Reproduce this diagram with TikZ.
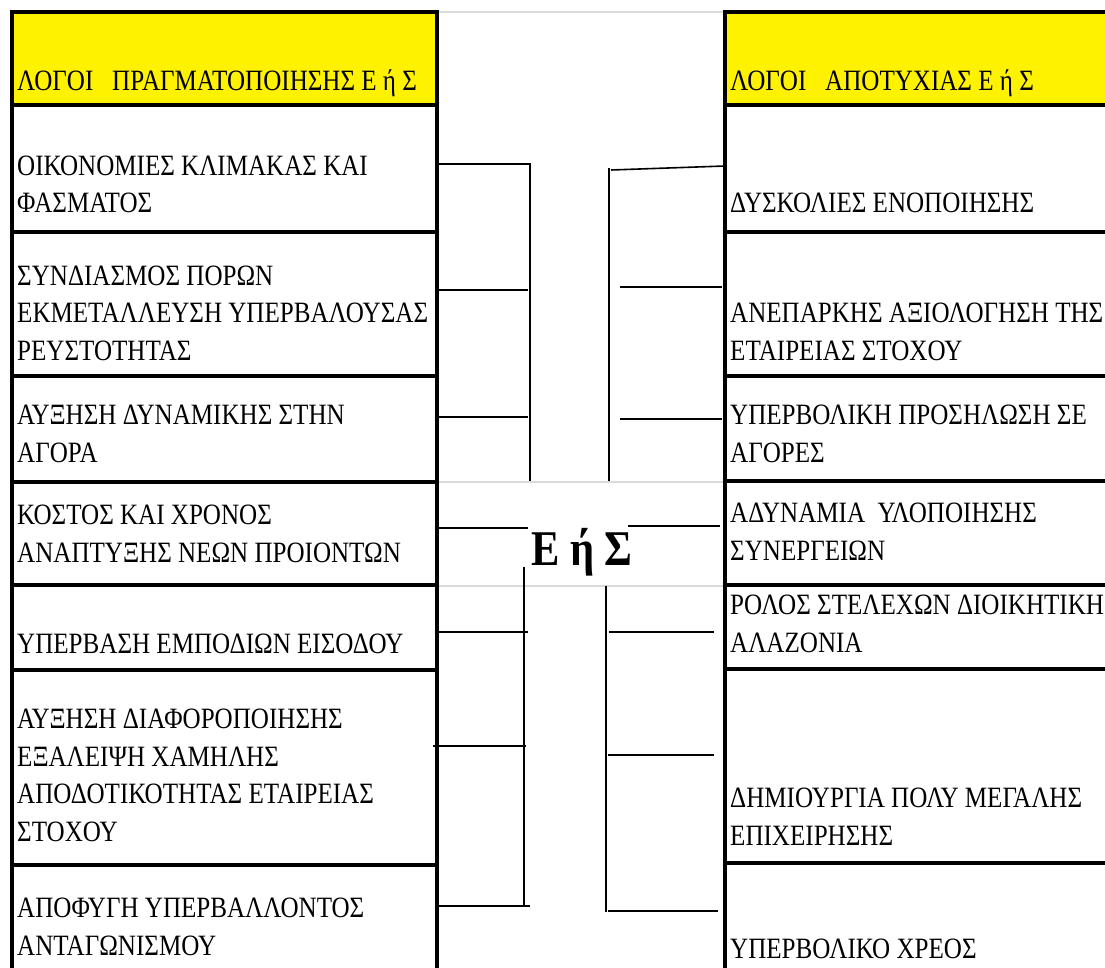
\documentclass[tikz,border=0pt]{standalone}
\usepackage{fontspec}
\setmainfont{Liberation Serif}
\newfontfamily\cellfont[FakeStretch=0.85]{Liberation Serif}
\begin{document}
\begin{tikzpicture}[x=1pt,y=-1pt,
  cell/.style={anchor=base west,inner sep=0pt,align=left,font=\cellfont\fontsize{29.5}{37.5}\selectfont},
  tbl/.style={line width=4pt,black},
  grid/.style={line width=2pt,gray!30},
  conn/.style={line width=1.6pt,black},
  mid/.style={inner sep=0pt,font=\cellfont\bfseries\fontsize{50}{50}\selectfont}]
\useasboundingbox (0,0) rectangle (1105,968);
\begin{scope}
\clip (0,0) rectangle (1105,968);
% gridlines
\draw[grid] (437,12) -- (725,12);
\draw[grid] (437,482) -- (725,482);
\draw[grid] (437,586) -- (725,586);
% yellow headers
\fill[yellow] (12,12) rectangle (437,105);
\fill[yellow] (725,12) rectangle (1110,105);
% left table
\draw[tbl] (12,990) -- (12,12) -- (437,12) -- (437,990);
\foreach \y in {105,232,376,482,585,670,865} \draw[tbl] (12,\y) -- (439,\y);
% right table
\draw[tbl] (725,990) -- (725,12) -- (1110,12);
\foreach \y in {105,232,376,481,585,669,863} \draw[tbl] (725,\y) -- (1110,\y);
\end{scope}
% left texts (anchor = baseline of last line)
\node[cell] (L0) at (17,91) {ΛΟΓΟΙ \ \ ΠΡΑΓΜΑΤΟΠΟΙΗΣΗΣ Ε ή Σ};
\node[cell] (L1) at (17,213) {ΟΙΚΟΝΟΜΙΕΣ ΚΛΙΜΑΚΑΣ ΚΑΙ\\ΦΑΣΜΑΤΟΣ};
\node[cell] (L2) at (17,360) {ΣΥΝΔΙΑΣΜΟΣ ΠΟΡΩΝ\\ΕΚΜΕΤΑΛΛΕΥΣΗ ΥΠΕΡΒΑΛΟΥΣΑΣ\\ΡΕΥΣΤΟΤΗΤΑΣ};
\node[cell] (L3) at (17,462) {ΑΥΞΗΣΗ ΔΥΝΑΜΙΚΗΣ ΣΤΗΝ\\ΑΓΟΡΑ};
\node[cell] (L4) at (17,562) {ΚΟΣΤΟΣ ΚΑΙ ΧΡΟΝΟΣ\\ΑΝΑΠΤΥΞΗΣ ΝΕΩΝ ΠΡΟΙΟΝΤΩΝ};
\node[cell] (L5) at (17,653) {ΥΠΕΡΒΑΣΗ ΕΜΠΟΔΙΩΝ ΕΙΣΟΔΟΥ};
\node[cell] (L6) at (17,841) {ΑΥΞΗΣΗ ΔΙΑΦΟΡΟΠΟΙΗΣΗΣ\\ΕΞΑΛΕΙΨΗ ΧΑΜΗΛΗΣ\\ΑΠΟΔΟΤΙΚΟΤΗΤΑΣ ΕΤΑΙΡΕΙΑΣ\\ΣΤΟΧΟΥ};
\node[cell] (L7) at (17,955) {ΑΠΟΦΥΓΗ ΥΠΕΡΒΑΛΛΟΝΤΟΣ\\ΑΝΤΑΓΩΝΙΣΜΟΥ};
% right texts
\node[cell] (R0) at (730,91) {ΛΟΓΟΙ \ \ ΑΠΟΤΥΧΙΑΣ Ε ή Σ};
\node[cell] (R1) at (730,213) {ΔΥΣΚΟΛΙΕΣ ΕΝΟΠΟΙΗΣΗΣ};
\node[cell] (R2) at (730,360) {ΑΝΕΠΑΡΚΗΣ ΑΞΙΟΛΟΓΗΣΗ ΤΗΣ\\ΕΤΑΙΡΕΙΑΣ ΣΤΟΧΟΥ};
\node[cell] (R3) at (730,462) {ΥΠΕΡΒΟΛΙΚΗ ΠΡΟΣΗΛΩΣΗ ΣΕ\\ΑΓΟΡΕΣ};
\node[cell] (R4) at (730,560) {ΑΔΥΝΑΜΙΑ \ ΥΛΟΠΟΙΗΣΗΣ\\ΣΥΝΕΡΓΕΙΩΝ};
\node[cell] (R5) at (730,652) {ΡΟΛΟΣ ΣΤΕΛΕΧΩΝ ΔΙΟΙΚΗΤΙΚΗ\\ΑΛΑΖΟΝΙΑ};
\node[cell] (R6) at (730,845) {ΔΗΜΙΟΥΡΓΙΑ ΠΟΛΥ ΜΕΓΑΛΗΣ\\ΕΠΙΧΕΙΡΗΣΗΣ};
\node[cell] (R7) at (730,958) {ΥΠΕΡΒΟΛΙΚΟ ΧΡΕΟΣ};
% centre label
\node[mid] (C) at (582,552) {Ε ή Σ};
% connector coordinates
\coordinate (a1) at (437,164); \coordinate (a2) at (530,164); \coordinate (a3) at (530,481);
\coordinate (b1) at (437,290); \coordinate (b2) at (528,290);
\coordinate (c1) at (437,417); \coordinate (c2) at (528,417);
\coordinate (d1) at (725,166); \coordinate (d2) at (611,170);
\coordinate (d3) at (609,168); \coordinate (d4) at (609,481);
\coordinate (e1) at (620,287); \coordinate (e2) at (722,287);
\coordinate (f1) at (620,419); \coordinate (f2) at (722,419);
\coordinate (g1) at (439,528); \coordinate (g2) at (528,528);
\coordinate (h1) at (628,526); \coordinate (h2) at (720,526);
\coordinate (i1) at (524,567); \coordinate (i2) at (524,907);
\coordinate (j1) at (439,632); \coordinate (j2) at (528,632);
\coordinate (k1) at (433,746); \coordinate (k2) at (526,746);
\coordinate (l1) at (439,906); \coordinate (l2) at (530,906);
\coordinate (m1) at (606,586); \coordinate (m2) at (606,912);
\coordinate (n1) at (609,632); \coordinate (n2) at (714,632);
\coordinate (o1) at (608,755); \coordinate (o2) at (714,755);
\coordinate (p1) at (608,911); \coordinate (p2) at (718,911);
\draw[conn] (a1) -- (a2) -- (a3);
\draw[conn] (b1) -- (b2);
\draw[conn] (c1) -- (c2);
\draw[conn] (d1) -- (d2);
\draw[conn] (d3) -- (d4);
\draw[conn] (e1) -- (e2);
\draw[conn] (f1) -- (f2);
\draw[conn] (g1) -- (g2);
\draw[conn] (h1) -- (h2);
\draw[conn] (i1) -- (i2);
\draw[conn] (j1) -- (j2);
\draw[conn] (k1) -- (k2);
\draw[conn] (l1) -- (l2);
\draw[conn] (m1) -- (m2);
\draw[conn] (n1) -- (n2);
\draw[conn] (o1) -- (o2);
\draw[conn] (p1) -- (p2);
\end{tikzpicture}
\end{document}
